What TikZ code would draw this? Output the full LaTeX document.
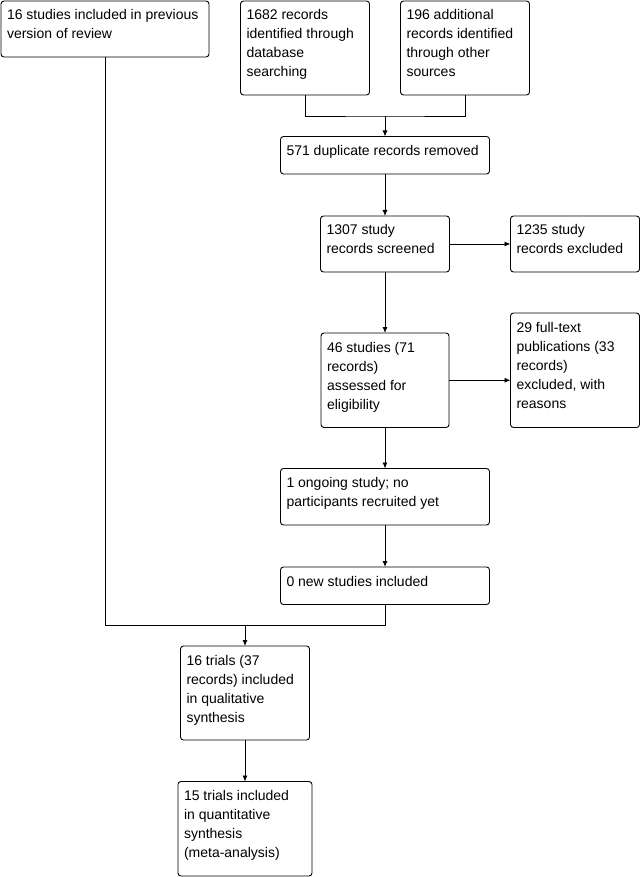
\documentclass[tikz,border=0pt]{standalone}
\usepackage{fontspec}
\setmainfont{Liberation Sans}
\usetikzlibrary{arrows.meta, calc, positioning}
\colorlet{linecolor}{black}
\newcommand{\flowfont}{\fontsize{14pt}{19pt}\selectfont}
\newcommand{\boxtext}[3]{\parbox[t][#2][t]{#1}{\raggedright\leftskip=6pt\rule{0pt}{19pt}#3}}
\tikzset{
  flow/.style={
    draw=linecolor,
    line width=0.9pt,
    rounded corners=3pt,
    inner sep=0pt,
    outer sep=0pt,
    fill=white,
    font=\flowfont
  },
  link/.style={draw=linecolor, line width=0.9pt},
  arr/.style={-{Latex[length=6pt,width=5pt]}, link}
}

\begin{document}
\begin{tikzpicture}[x=1pt, y=-1pt]
\useasboundingbox (0,0) rectangle (642,877);

\node[flow, anchor=north west] (prev) at (1,1) {\boxtext{208pt}{56pt}{16 studies included in previous\\version of review}};
\node[flow, anchor=north west] (db) at (240.5,1) {\boxtext{129pt}{94pt}{1682 records\\identified through\\database\\searching}};
\node[flow, anchor=north west] (other) at (400.5,1) {\boxtext{129pt}{94pt}{196 additional\\records identified\\through other\\sources}};
\coordinate (join) at (385,116);

\node[flow, below=20.5pt of join] (dup) {\boxtext{209pt}{37.5pt}{571 duplicate records removed}};
\node[flow, below=42pt of dup] (screen) {\boxtext{129pt}{56pt}{1307 study\\records screened}};
\node[flow, right=61pt of screen] (excl) {\boxtext{129pt}{56pt}{1235 study\\records excluded}};
\node[flow, below=61pt of screen] (elig) {\boxtext{128pt}{94.5pt}{46 studies (71\\records)\\assessed for\\eligibility}};
\node[flow, right=61.5pt of elig.south east, anchor=south west] (fulltext) {\boxtext{129pt}{114.5pt}{29 full-text\\publications (33\\records)\\excluded, with\\reasons}};
\node[flow, below=41pt of elig] (ongoing) {\boxtext{209pt}{56.5pt}{1 ongoing study; no\\participants recruited yet}};
\node[flow, below=42pt of ongoing] (newinc) {\boxtext{209pt}{37.5pt}{0 new studies included}};
\coordinate (merge) at (245,625);

\node[flow, below=21pt of merge] (qual) {\boxtext{129pt}{94pt}{16 trials (37\\records) included\\in qualitative\\synthesis}};
\node[flow, below=41.5pt of qual] (quant) {\boxtext{134pt}{94.5pt}{15 trials included\\in quantitative\\synthesis\\(meta-analysis)}};

\draw[link] (db.south) |- (join) -| (other.south);
\draw[arr] (join) -- (dup);
\draw[arr] (dup) -- (screen);
\draw[arr] (screen) -- (excl);
\draw[arr] (screen) -- (elig);
\draw[arr] (elig.east) -- (elig.east -| fulltext.west);
\draw[arr] (elig) -- (ongoing);
\draw[arr] (ongoing) -- (newinc);

\draw[link] (prev.south) |- (merge);
\draw[link] (newinc.south) |- (merge);
\draw[arr] (merge) -- (qual);
\draw[arr] (qual) -- (quant);

\end{tikzpicture}
\end{document}
